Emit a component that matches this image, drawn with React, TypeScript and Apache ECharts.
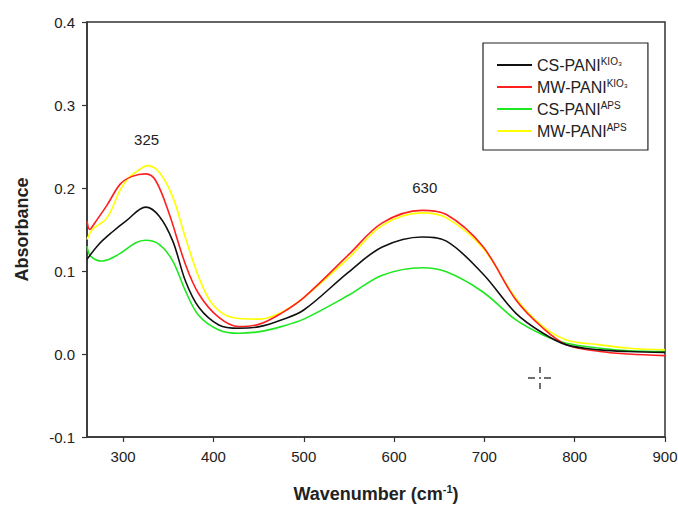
import React, { useEffect, useRef } from "react";
import * as echarts from "echarts";

const seriesBase = ["CS-PANI", "MW-PANI", "CS-PANI", "MW-PANI"];
const seriesSup = ["KIO₃", "KIO₃", "APS", "APS"];
const seriesColors = ["#111111", "#ff1f1f", "#1ee81e", "#ffff00"];

const csKio3 = [[260,0.114],[273,0.132],[288,0.147],[303,0.160],[325,0.177],[340,0.166],[355,0.136],[369,0.088],[384,0.056],[406,0.035],[428,0.031],[451,0.033],[475,0.041],[500,0.053],[550,0.099],[587,0.129],[631,0.141],[658,0.136],[698,0.097],[735,0.049],[765,0.025],[791,0.011],[828,0.005],[860,0.003],[900,0.002]];
const mwKio3 = [[260,0.160],[263,0.150],[268,0.157],[282,0.179],[297,0.205],[310,0.214],[325,0.217],[336,0.209],[351,0.169],[369,0.108],[384,0.072],[406,0.044],[428,0.033],[451,0.036],[475,0.049],[500,0.068],[550,0.120],[587,0.158],[631,0.173],[658,0.168],[698,0.130],[735,0.065],[765,0.031],[791,0.011],[828,0.003],[860,0.000],[900,-0.002]];
const csAps = [[260,0.130],[264,0.118],[277,0.112],[295,0.120],[314,0.134],[325,0.137],[340,0.132],[355,0.112],[369,0.076],[384,0.046],[406,0.029],[428,0.025],[451,0.027],[475,0.033],[500,0.042],[550,0.071],[587,0.095],[631,0.104],[658,0.099],[698,0.075],[735,0.041],[765,0.023],[791,0.013],[828,0.007],[860,0.004],[900,0.003]];
const mwAps = [[260,0.138],[266,0.150],[282,0.164],[297,0.198],[306,0.212],[318,0.222],[327,0.227],[340,0.219],[355,0.189],[369,0.140],[384,0.092],[399,0.060],[421,0.044],[451,0.042],[475,0.050],[500,0.068],[550,0.116],[587,0.155],[631,0.170],[658,0.164],[698,0.128],[735,0.067],[765,0.033],[791,0.017],[828,0.011],[860,0.007],[900,0.005]];
const seriesData = [csKio3, mwKio3, csAps, mwAps];

const xTicks = [300, 400, 500, 600, 700, 800, 900];
const peakLabels = [
  { text: "325", coord: [326, 0.2585] },
  { text: "630", coord: [634, 0.2005] },
];

const FONT = "Liberation Sans, Arial, sans-serif";

export default function App() {
  const ref = useRef<HTMLDivElement>(null);
  useEffect(() => {
    if (!ref.current) return;
    const chart = echarts.init(ref.current, undefined, { renderer: "svg" });
    const names = seriesBase.map((b, i) => b + " " + seriesSup[i]);
    chart.setOption({
      animation: false,
      backgroundColor: "#ffffff",
      textStyle: { fontFamily: FONT },
      grid: {
        left: 87, right: 13, top: 22, bottom: 69,
        outerBoundsMode: "none", containLabel: false,
        show: true, borderColor: "#333", borderWidth: 1.5, backgroundColor: "transparent",
      },
      legend: {
        left: 483, top: 43, orient: "vertical",
        data: names,
        icon: "rect", itemWidth: 35, itemHeight: 2, itemGap: 5, itemTextGap: 8,
        borderColor: "#222", borderWidth: 1.2,
        padding: [13, 20, 11, 14],
        formatter: (name: string) => {
          const i = names.indexOf(name);
          return "{m|" + seriesBase[i] + "}{s|" + seriesSup[i] + "}";
        },
        textStyle: {
          fontFamily: FONT,
          rich: {
            m: { fontSize: 16, color: "#222", lineHeight: 18, fontFamily: FONT },
            s: { fontSize: 10, color: "#222", lineHeight: 8, verticalAlign: "top", fontFamily: FONT },
          },
        },
      },
      xAxis: {
        type: "value", min: 260, max: 900,
        name: "{a|Wavenumber (cm}{s|-1}{a|)}",
        nameLocation: "middle", nameGap: 46,
        nameTextStyle: {
          rich: {
            a: { fontSize: 18, fontWeight: "bold", color: "#222", lineHeight: 22, fontFamily: FONT },
            s: { fontSize: 11, fontWeight: "bold", color: "#222", lineHeight: 11, verticalAlign: "top", fontFamily: FONT },
          },
        },
        axisLine: { show: true, onZero: false, lineStyle: { color: "#333", width: 1.5 } },
        axisTick: { show: true, inside: false, length: 5, customValues: xTicks, lineStyle: { color: "#333", width: 1.2 } },
        axisLabel: { customValues: xTicks, fontSize: 15, color: "#222", margin: 12, fontFamily: FONT },
        splitLine: { show: false },
      },
      yAxis: {
        type: "value", min: -0.1, max: 0.4, interval: 0.1,
        name: "Absorbance", nameLocation: "middle", nameGap: 56,
        nameTextStyle: { fontSize: 18, fontWeight: "bold", color: "#222", fontFamily: FONT },
        axisLine: { show: true, onZero: false, lineStyle: { color: "#333", width: 1.5 } },
        axisTick: { show: true, inside: false, length: 5, lineStyle: { color: "#333", width: 1.2 } },
        axisLabel: {
          fontSize: 15, color: "#222", margin: 12, fontFamily: FONT,
          formatter: (v: number) => v.toFixed(1),
        },
        splitLine: { show: false },
      },
      series: seriesData.map((d, i) => ({
        name: names[i],
        type: "line",
        data: d,
        showSymbol: false,
        symbol: "none",
        smooth: 0.35,
        lineStyle: { color: seriesColors[i], width: 1.6 },
        itemStyle: { color: seriesColors[i] },
        z: 10 - i,
        markPoint: i === 0 ? {
          symbol: "circle", symbolSize: 0,
          label: { show: true, position: "inside", fontSize: 15, color: "#222", fontFamily: FONT, formatter: (p: any) => p.name },
          data: peakLabels.map((p) => ({ name: p.text, coord: p.coord, value: p.text })),
        } : undefined,
      })),
      graphic: [
        {
          type: "group", x: 540, y: 378,
          children: [
            { type: "line", shape: { x1: 0, y1: -11, x2: 0, y2: -5 }, style: { stroke: "#222", lineWidth: 1.3 } },
            { type: "line", shape: { x1: 0, y1: 5, x2: 0, y2: 11 }, style: { stroke: "#222", lineWidth: 1.3 } },
            { type: "line", shape: { x1: -12, y1: 0, x2: -5, y2: 0 }, style: { stroke: "#222", lineWidth: 1.3 } },
            { type: "line", shape: { x1: 4, y1: 0, x2: 11, y2: 0 }, style: { stroke: "#222", lineWidth: 1.3 } },
            { type: "circle", shape: { cx: 0, cy: 0, r: 0.8 }, style: { fill: "#222" } },
          ],
        },
      ],
    });
    return () => chart.dispose();
  }, []);
  return <div ref={ref} style={{ position: "fixed", left: 0, top: 0, width: 678, height: 506 }} />;
}
